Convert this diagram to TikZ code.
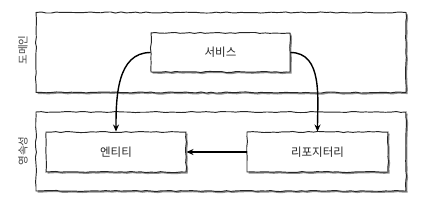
\documentclass[tikz,border=0pt]{standalone}
\usepackage{fontspec}
\setmainfont{Noto Sans CJK KR}
\usetikzlibrary{decorations.pathmorphing,arrows.meta,shadows}
\begin{document}
\begin{tikzpicture}[x=1pt,y=-1pt,
  sketch/.style={draw=black!85, line width=0.95pt, fill=white,
    decorate, decoration={random steps, segment length=5pt, amplitude=0.55pt},
    drop shadow={shadow xshift=1.6pt, shadow yshift=-1.6pt, fill=black!45, opacity=1},
    inner sep=0pt},
  layer/.style={sketch, minimum width=370pt, minimum height=80pt},
  comp/.style={sketch, minimum width=140pt, minimum height=40pt,
    font=\fontsize{11.5}{13}\selectfont, text=black!85},
  side/.style={rotate=90, font=\fontsize{10.5}{12}\selectfont, text=black!75},
  conn/.style={line width=1.4pt, -{Stealth[length=7pt,width=6pt]}}]
\useasboundingbox (0,0) rectangle (430,209);
\pgfmathsetseed{7}
\node[layer] (domain) at (221,52.5) {};
\node[layer, minimum height=79pt] (persist) at (221,151.5) {};
\node[side] (ldomain) at (23,50) {도메인};
\node[side] (lpersist) at (23,151) {영속성};
\node[comp, minimum width=139pt, minimum height=39pt] (service) at (220.5,52.5) {서비스};
\node[comp] (entity) at (116,152) {엔티티};
\node[comp, minimum width=141pt] (repo) at (317.5,152) {리포지터리};
\draw[conn] (service.west) to[out=180,in=90] (entity.north);
\draw[conn] (service.east) to[out=0,in=90] (repo.north);
\draw[conn] (repo.west) -- (entity.east);
\end{tikzpicture}
\end{document}
